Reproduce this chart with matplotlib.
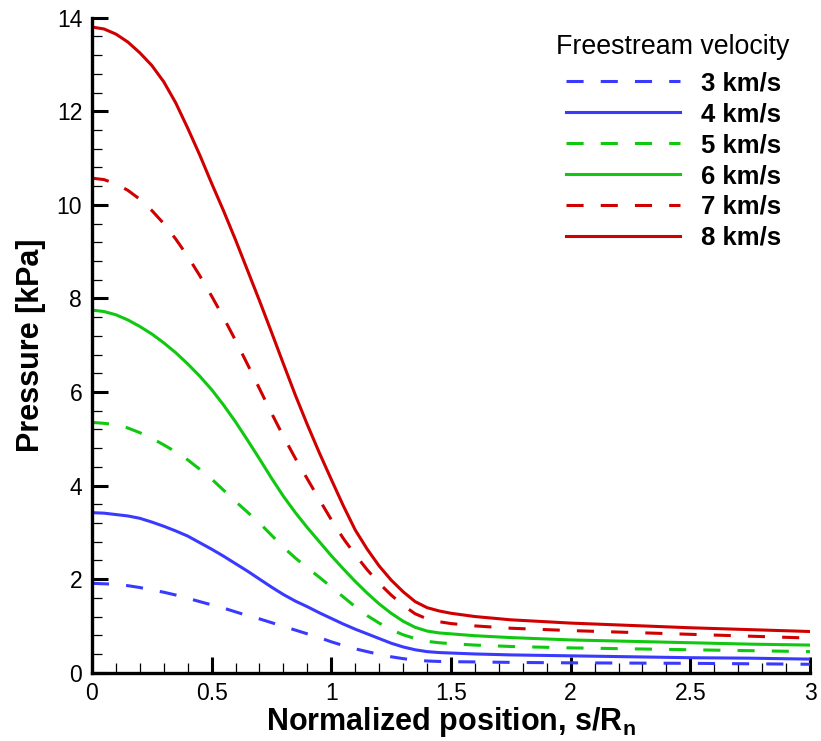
import numpy as np
import matplotlib
matplotlib.use('Agg')
import matplotlib.pyplot as plt
from matplotlib.ticker import MultipleLocator, FormatStrFormatter

# normalized position along the body, s/Rn
s = [0.0, 0.05, 0.1, 0.15, 0.2, 0.25, 0.3, 0.35, 0.4, 0.45, 0.5, 0.55, 0.6, 0.65,
     0.7, 0.75, 0.8, 0.85, 0.9, 0.95, 1.0, 1.05, 1.1, 1.15, 1.2, 1.25, 1.3, 1.35,
     1.4, 1.45, 1.5, 1.6, 1.75, 2.0, 2.25, 2.5, 2.75, 3.0]

# pressure [kPa], one list per freestream velocity
p3 = [1.91, 1.90, 1.89, 1.86, 1.82, 1.77, 1.72, 1.66, 1.59, 1.52, 1.45, 1.38, 1.30, 1.22,
      1.15, 1.07, 0.99, 0.91, 0.83, 0.75, 0.66, 0.58, 0.51, 0.45, 0.39, 0.34, 0.30, 0.27,
      0.25, 0.24, 0.235, 0.23, 0.22, 0.21, 0.205, 0.20, 0.19, 0.18]
p4 = [3.42, 3.41, 3.38, 3.35, 3.30, 3.22, 3.13, 3.03, 2.92, 2.78, 2.64, 2.49, 2.33, 2.17,
      2.00, 1.83, 1.67, 1.53, 1.41, 1.28, 1.16, 1.04, 0.93, 0.83, 0.73, 0.63, 0.55, 0.49,
      0.45, 0.43, 0.42, 0.40, 0.38, 0.36, 0.34, 0.32, 0.31, 0.29]
p5 = [5.35, 5.33, 5.30, 5.23, 5.13, 5.01, 4.87, 4.72, 4.55, 4.35, 4.14, 3.90, 3.66, 3.43,
      3.20, 2.94, 2.68, 2.45, 2.24, 2.04, 1.83, 1.62, 1.41, 1.22, 1.06, 0.92, 0.81, 0.73,
      0.67, 0.64, 0.62, 0.59, 0.56, 0.53, 0.51, 0.49, 0.47, 0.45]
p6 = [7.75, 7.72, 7.65, 7.54, 7.40, 7.24, 7.05, 6.84, 6.60, 6.34, 6.05, 5.72, 5.36, 4.97,
      4.57, 4.16, 3.77, 3.42, 3.10, 2.80, 2.50, 2.22, 1.95, 1.70, 1.47, 1.27, 1.10, 0.97,
      0.89, 0.85, 0.83, 0.79, 0.75, 0.70, 0.67, 0.64, 0.61, 0.59]
p7 = [10.57, 10.54, 10.45, 10.31, 10.12, 9.88, 9.60, 9.27, 8.90, 8.49, 8.05, 7.59, 7.10, 6.59,
      6.07, 5.55, 5.05, 4.58, 4.14, 3.70, 3.27, 2.87, 2.52, 2.20, 1.91, 1.66, 1.44, 1.26,
      1.15, 1.09, 1.05, 1.00, 0.95, 0.90, 0.86, 0.82, 0.78, 0.74]
p8 = [13.80, 13.76, 13.65, 13.48, 13.25, 12.98, 12.63, 12.18, 11.64, 11.07, 10.46, 9.87, 9.25, 8.60,
      7.95, 7.28, 6.60, 5.93, 5.30, 4.70, 4.13, 3.57, 3.05, 2.64, 2.28, 1.98, 1.73, 1.52,
      1.39, 1.32, 1.27, 1.20, 1.13, 1.06, 1.01, 0.96, 0.92, 0.88]

labels = ['3 km/s', '4 km/s', '5 km/s', '6 km/s', '7 km/s', '8 km/s']
legend_title = 'Freestream velocity'

plt.rcParams['font.family'] = ['Liberation Sans', 'DejaVu Sans']
plt.rcParams['mathtext.fontset'] = 'custom'
plt.rcParams['mathtext.rm'] = 'Liberation Sans'
plt.rcParams['mathtext.bf'] = 'Liberation Sans:bold'

blue = '#3a3aff'
green = '#10c810'
red = '#d00000'
styles = [(blue, 'dash'), (blue, 'solid'), (green, 'dash'), (green, 'solid'),
          (red, 'dash'), (red, 'solid')]

fig = plt.figure(figsize=(8.21, 7.41), dpi=100)
ax = fig.add_axes([0.112, 0.0922, 0.8746, 0.8839])

for p, lab, (c, ls) in zip([p3, p4, p5, p6, p7, p8], labels, styles):
    line, = ax.plot(s, p, color=c, lw=2.2, label=lab, solid_joinstyle='round')
    if ls == 'dash':
        line.set_dashes((5.6, 5.6))

ax.set_xlim(0, 3)
ax.set_ylim(0, 14)
ax.xaxis.set_major_locator(MultipleLocator(0.5))
ax.xaxis.set_minor_locator(MultipleLocator(0.1))
ax.yaxis.set_major_locator(MultipleLocator(2))
ax.yaxis.set_minor_locator(MultipleLocator(0.4))
ax.xaxis.set_major_formatter(FormatStrFormatter('%g'))
ax.yaxis.set_major_formatter(FormatStrFormatter('%g'))

for side in ['top', 'right']:
    ax.spines[side].set_visible(False)
for side in ['left', 'bottom']:
    ax.spines[side].set_linewidth(2.4)
ax.tick_params(which='major', direction='in', length=11.5, width=2.2,
               labelsize=16.5, pad=7)
ax.tick_params(which='minor', direction='in', length=7, width=0.9)

ax.set_xlabel(r'Normalized position, s/R$_\mathbf{n}$', fontsize=22,
              fontweight='bold', labelpad=0)
ax.set_ylabel('Pressure [kPa]', fontsize=22, fontweight='bold', labelpad=8)

# legend entries, title drawn on its own above them
leg = ax.legend(loc='upper left', bbox_to_anchor=(0.646, 0.934), frameon=False,
                prop={'weight': 'bold', 'size': 18.5}, handlelength=4.45,
                handletextpad=0.8, labelspacing=0.27, borderaxespad=0.0)
fig.text(672.5 / 821, 1 - 47 / 741, legend_title, ha='center', va='center',
         fontsize=19.3)

fig.savefig('out.png', dpi=100)
